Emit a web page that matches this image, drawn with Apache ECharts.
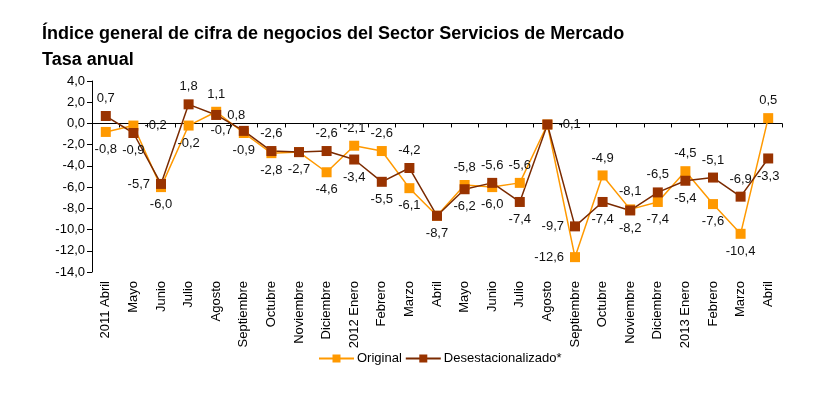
<!DOCTYPE html>
<html>
<head>
<meta charset="utf-8">
<script src="https://cdn.jsdelivr.net/npm/echarts@6/dist/echarts.min.js"></script>
<style>
  html, body { margin: 0; padding: 0; background: #fff; }
  #chart { width: 826px; height: 398px; }
</style>
</head>
<body>
<div id="chart"></div>
<script>
// meses
const categories = ['2011 Abril', 'Mayo', 'Junio', 'Julio', 'Agosto', 'Septiembre', 'Octubre', 'Noviembre', 'Diciembre',
  '2012 Enero', 'Febrero', 'Marzo', 'Abril', 'Mayo', 'Junio', 'Julio', 'Agosto', 'Septiembre', 'Octubre', 'Noviembre', 'Diciembre',
  '2013 Enero', 'Febrero', 'Marzo', 'Abril']

const original = [-0.8, -0.2, -6.0, -0.2, 1.1, -0.9, -2.8, -2.7, -4.6, -2.1, -2.6, -6.1, -8.7,
  -5.8, -6.0, -5.6, -0.1, -12.6, -4.9, -8.1, -7.4, -4.5, -7.6, -10.4, 0.5]

const desestacionalizado = [0.7, -0.9, -5.7, 1.8, 0.8, -0.7, -2.6, -2.7, -2.6, -3.4, -5.5, -4.2, -8.7,
  -6.2, -5.6, -7.4, -0.1, -9.7, -7.4, -8.2, -6.5, -5.4, -5.1, -6.9, -3.3]

// where each value label sits ('none' = shared with the other series)
const originalLabelPos = ['bottom', 'right', 'bottom', 'bottom', 'top', 'bottom', 'bottom', 'bottom', 'bottom', 'top', 'top', 'bottom', 'bottom',
  'top', 'bottom', 'top', 'right', 'left', 'top', 'top', 'bottom', 'top', 'bottom', 'bottom', 'top']
const desestLabelPos = ['top', 'bottom', 'left', 'top', 'right', 'left', 'top', 'none', 'top', 'bottom', 'bottom', 'top', 'none',
  'bottom', 'top', 'bottom', 'none', 'left', 'bottom', 'bottom', 'top', 'bottom', 'top', 'top', 'bottom']

const yMin = -14
const yMax = 4
const yStep = 2

const fontFamily = '"Liberation Sans", Arial, sans-serif'
const fmt = v => v.toFixed(1).replace('.', ',')

function buildData(values, positions) {
  return values.map((v, i) => ({
    value: v,
    label: positions[i] === 'none' ? { show: false } : { position: positions[i] }
  }))
}

const chart = echarts.init(document.getElementById('chart'))

chart.setOption({
  animation: false,
  textStyle: { fontFamily: fontFamily },
  title: {
    left: 37,
    top: 16,
    text: 'Índice general de cifra de negocios del Sector Servicios de Mercado\nTasa anual',
    textStyle: {
      fontFamily: fontFamily,
      fontSize: 18,
      fontWeight: 'bold',
      color: '#000',
      lineHeight: 26
    }
  },
  legend: {
    left: 313,
    top: 347,
    itemWidth: 35,
    itemHeight: 10,
    itemGap: 3,
    textStyle: { fontFamily: fontFamily, fontSize: 13, color: '#000', padding: [0, 0, 0, -2] },
    data: ['Original', 'Desestacionalizado*']
  },
  grid: {
    left: 92,
    right: 44,
    top: 81,
    bottom: 126
  },
  xAxis: [{
    type: 'category',
    data: categories,
    boundaryGap: true,
    axisLine: { show: false, onZero: false },
    axisTick: { show: false },
    axisLabel: {
      rotate: 90,
      interval: 0,
      margin: 9,
      fontSize: 13,
      color: '#000',
      fontFamily: fontFamily
    }
  }, {
    type: 'category',
    data: categories,
    boundaryGap: true,
    position: 'bottom',
    axisLine: { show: true, onZero: true, lineStyle: { color: '#000', width: 1 } },
    axisTick: { show: true, length: 4, interval: 0, lineStyle: { color: '#000' } },
    axisLabel: { show: false }
  }],
  yAxis: {
    type: 'value',
    min: yMin,
    max: yMax,
    interval: yStep,
    axisLine: { show: true, lineStyle: { color: '#000', width: 1 } },
    axisTick: { show: true, length: 5, lineStyle: { color: '#000' } },
    splitLine: { show: false },
    axisLabel: {
      fontSize: 13,
      color: '#000',
      margin: 7,
      fontFamily: fontFamily,
      formatter: v => fmt(v)
    }
  },
  series: [{
    name: 'Original',
    type: 'line',
    xAxisIndex: 0,
    symbol: 'rect',
    symbolSize: 10,
    color: '#FF9900',
    lineStyle: { color: '#FF9900', width: 1.5 },
    itemStyle: { color: '#FF9900' },
    label: {
      show: true,
      distance: 6,
      fontSize: 13,
      color: '#111',
      fontFamily: fontFamily,
      formatter: p => fmt(p.value)
    },
    data: buildData(original, originalLabelPos)
  }, {
    name: 'Desestacionalizado*',
    type: 'line',
    xAxisIndex: 0,
    symbol: 'rect',
    symbolSize: 10,
    color: '#993300',
    lineStyle: { color: '#7A2A00', width: 1.5 },
    itemStyle: { color: '#993300' },
    label: {
      show: true,
      distance: 6,
      fontSize: 13,
      color: '#111',
      fontFamily: fontFamily,
      formatter: p => fmt(p.value)
    },
    data: buildData(desestacionalizado, desestLabelPos)
  }]
})
</script>
</body>
</html>
